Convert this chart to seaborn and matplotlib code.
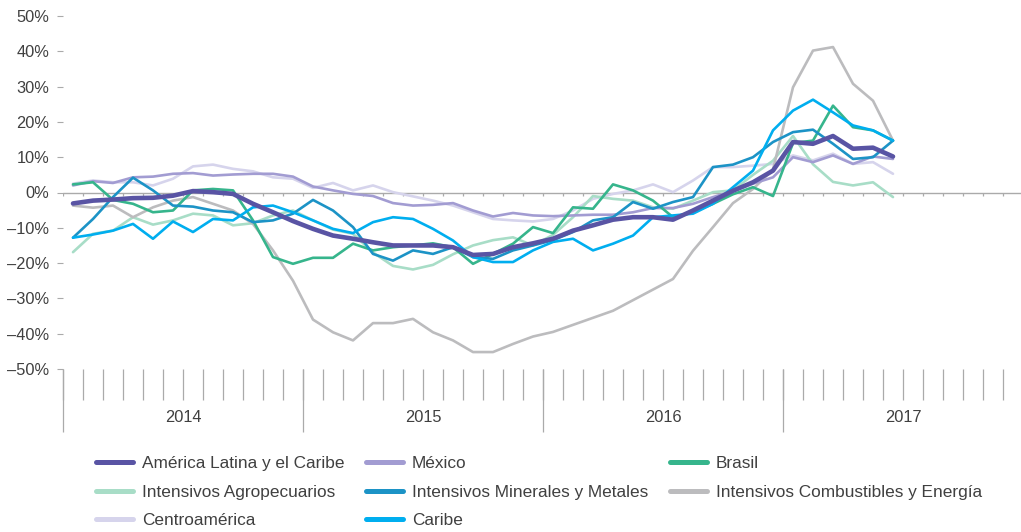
import numpy as np
import pandas as pd
import matplotlib
matplotlib.use("Agg")
import matplotlib.pyplot as plt
from matplotlib.lines import Line2D
from matplotlib.ticker import FuncFormatter
import seaborn as sns

# ---------------- data (monthly, Jan 2014 - Jun 2017, % y/y) ----------------
years = ["2014", "2015", "2016", "2017"]
yticks = [-50, -40, -30, -20, -10, 0, 10, 20, 30, 40, 50]

america_latina = [-3.1, -2.3, -2.0, -1.6, -1.5, -0.9, 0.4, 0.1, -0.4, -3.2, -5.6, -8.1,
                  -10.3, -12.2, -13.1, -14.1, -15.0, -15.0, -15.0, -15.5, -17.7, -17.4, -15.5, -14.4,
                  -13.1, -10.8, -9.3, -7.7, -7.0, -7.0, -7.7, -5.1, -2.3, 0.5, 2.9, 6.2,
                  14.3, 13.8, 16.0, 12.4, 12.7, 10.2]
mexico = [2.0, 3.2, 2.7, 4.3, 4.5, 5.3, 5.5, 4.8, 5.1, 5.3, 5.3, 4.5,
          1.7, 0.6, -0.4, -1.0, -3.0, -3.7, -3.5, -3.0, -5.1, -6.8, -5.8, -6.5,
          -6.7, -6.5, -6.3, -6.3, -5.6, -4.4, -4.4, -3.2, -1.3, 0.4, 2.5, 4.3,
          10.0, 8.6, 10.5, 8.1, 10.2, 9.5]
brasil = [2.3, 2.9, -2.1, -3.2, -5.6, -5.1, 0.6, 1.0, 0.6, -7.9, -18.3, -20.2,
          -18.5, -18.5, -14.5, -16.4, -15.5, -15.0, -14.4, -15.5, -20.2, -17.4, -14.5, -9.8,
          -11.5, -4.2, -4.6, 2.3, 0.6, -2.3, -7.0, -5.6, -3.2, -0.5, 1.5, -1.0,
          14.0, 14.7, 24.6, 18.5, 17.6, 14.7]
agropecuarios = [-16.9, -11.7, -10.8, -7.0, -9.1, -7.9, -6.0, -6.5, -9.3, -8.7, -6.5, -5.1,
                 -7.9, -10.5, -11.7, -17.0, -20.8, -21.8, -20.5, -17.5, -15.0, -13.5, -12.7, -15.0,
                 -12.0, -7.0, -1.0, -1.8, -2.3, -4.2, -4.6, -2.3, 0.1, 0.6, 5.0, 9.0,
                 16.0, 8.0, 3.0, 2.0, 2.9, -1.3]
minerales = [-12.8, -7.5, -1.3, 4.2, 0.6, -3.7, -4.0, -5.1, -5.6, -8.4, -7.9, -6.0,
             -2.1, -5.1, -9.8, -17.4, -19.3, -16.4, -17.4, -15.5, -18.3, -18.8, -16.4, -15.0,
             -13.5, -11.2, -7.9, -7.0, -2.7, -4.6, -2.7, -1.3, 7.2, 7.9, 10.0, 14.3,
             17.1, 17.8, 13.8, 9.5, 10.0, 14.7]
combustibles = [-3.7, -4.3, -3.7, -7.0, -4.2, -2.3, -1.3, -3.2, -5.1, -8.9, -16.4, -25.0,
                -36.0, -39.6, -41.9, -37.0, -37.0, -35.8, -39.6, -41.9, -45.2, -45.2, -42.9, -40.8,
                -39.5, -37.5, -35.5, -33.5, -30.5, -27.5, -24.5, -16.5, -9.8, -3.0, 1.0, 6.5,
                29.8, 40.2, 41.2, 30.8, 26.0, 14.7]
centroamerica = [2.5, 3.4, 2.9, 2.9, 2.0, 3.9, 7.4, 7.9, 6.7, 6.0, 4.3, 3.9,
                 1.3, 2.7, 0.6, 2.0, 0.1, -1.1, -2.3, -3.7, -5.6, -7.5, -7.9, -8.2,
                 -7.5, -5.1, -1.8, -0.4, 0.6, 2.3, 0.1, 3.4, 7.2, 7.2, 7.6, 8.1,
                 10.5, 9.1, 11.0, 8.1, 8.6, 5.3]
caribe = [-12.8, -11.9, -10.8, -8.9, -13.1, -8.2, -11.2, -7.5, -7.9, -4.2, -3.7, -5.6,
          -7.9, -10.3, -11.5, -8.4, -7.0, -7.5, -10.3, -13.6, -18.3, -19.7, -19.7, -16.4,
          -14.0, -13.1, -16.4, -14.5, -12.2, -7.0, -6.5, -6.0, -3.2, 1.5, 6.2, 17.6,
          23.2, 26.3, 22.7, 19.0, 17.6, 14.7]

names = ["América Latina y el Caribe", "México", "Brasil",
         "Intensivos Agropecuarios", "Intensivos Minerales y Metales",
         "Intensivos Combustibles y Energía", "Centroamérica", "Caribe"]
series = [america_latina, mexico, brasil, agropecuarios, minerales,
          combustibles, centroamerica, caribe]
colors = ["#5954A4", "#A29CD2", "#36B58C", "#A8DDC7", "#1C93C6",
          "#BCBCBE", "#D6D4EC", "#00AEEF"]

rows = []
for name, vals in zip(names, series):
    for i, v in enumerate(vals):
        rows.append({"mes": i + 0.5, "valor": v, "serie": name})
df = pd.DataFrame(rows)

# ---------------- style ----------------
sns.set_theme(style="white")
plt.rcParams["font.family"] = ["Liberation Sans", "DejaVu Sans"]
txt = "#404040"
axc = "#AAAAAA"

W, H = 1021, 532
fig = plt.figure(figsize=(W / 100, H / 100), dpi=100)
ax = fig.add_axes([63 / W, 1 - 369 / H, 960 / W, 353 / H])

palette = dict(zip(names, colors))
sizes = {n: (3.3 if n == names[0] else 1.9) for n in names}
draw_order = [names[6], names[3], names[5], names[1], names[2], names[4], names[7], names[0]]

sns.lineplot(data=df, x="mes", y="valor", hue="serie", size="serie",
             hue_order=draw_order, size_order=draw_order,
             palette=palette, sizes=sizes, legend=False, errorbar=None,
             estimator=None, ax=ax)

ax.set_xlim(0, 48)
ax.set_ylim(-50, 50)
for s in ax.spines.values():
    s.set_visible(False)
ax.set_xlabel("")
ax.set_ylabel("")
ax.set_xticks([])
ax.set_yticks(yticks)
ax.yaxis.set_major_formatter(FuncFormatter(lambda v, p: f"{int(v)}%".replace("-", "\u2013")))
ax.tick_params(axis="y", length=4, width=0.8, color=axc, pad=6, labelsize=11.8, labelcolor=txt, left=True)

# zero line with month ticks
ax.axhline(0, color=axc, lw=1, zorder=1)
ax.vlines(np.arange(0, 48), -1.1, 0, color=axc, lw=0.9, zorder=1)

# category band below plot
tr = ax.get_xaxis_transform()
ax.vlines(np.arange(0, 49), -31 / 353, 0, color=axc, lw=0.9, transform=tr, clip_on=False)
ax.vlines(np.arange(0, 49, 12), -63 / 353, 0, color=axc, lw=0.9, transform=tr, clip_on=False)
for k, y in enumerate(years):
    ax.text(6 + 12 * k, -49 / 353, y, transform=tr, ha="center", va="center",
            fontsize=11.8, color=txt)

# legend (row-major order in reference -> column-major for matplotlib)
leg_order = [0, 3, 6, 1, 4, 7, 2, 5]
handles = [Line2D([0], [0], color=colors[i], lw=3.6, solid_capstyle="round") for i in leg_order]
labels = [names[i] for i in leg_order]
fig.legend(handles, labels, ncol=3, loc="upper left", bbox_to_anchor=(96 / W, 1 - 456 / H),
           frameon=False, fontsize=12.4, handlelength=2.15, handletextpad=0.5,
           columnspacing=1.28, labelspacing=0.78, borderpad=0, borderaxespad=0,
           labelcolor=txt)

fig.savefig("out.png", dpi=100)
